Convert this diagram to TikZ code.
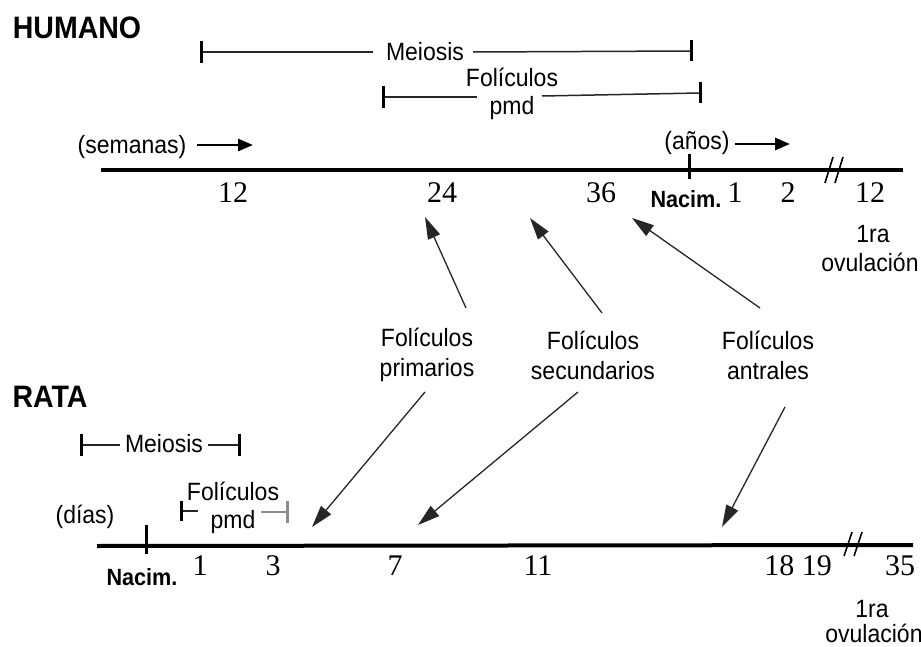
\documentclass[tikz,border=0pt]{standalone}
\usepackage{fontspec}
\setmainfont{Liberation Sans}[FakeStretch=0.92]
\newfontfamily\numfont{Liberation Serif}
\usetikzlibrary{arrows.meta}
\begin{document}
\begin{tikzpicture}[x=1pt,y=-1pt,
  txt/.style={inner sep=0pt, font=\fontsize{25}{28}\selectfont, align=center},
  lbl/.style={inner sep=0pt, font=\fontsize{25}{30}\selectfont, align=center},
  num/.style={inner sep=0pt, font=\numfont\fontsize{30}{32}\selectfont},
  boldlbl/.style={inner sep=0pt, font=\bfseries\fontsize{23.5}{26}\selectfont},
  title/.style={inner sep=0pt, font=\bfseries\fontsize{31}{34}\selectfont},
  axis/.style={line width=4pt},
  bar/.style={line width=1.5pt, black!85},
  greybar/.style={line width=1.5pt, black!45},
  tickmark/.style={line width=3pt},
  brk/.style={line width=1.6pt},
  pointer/.style={line width=1.3pt, black!85, -{Triangle[length=22pt,width=13pt]}},
  dirarrow/.style={line width=2.8pt, -{Triangle[length=15pt,width=12pt]}}
]
\useasboundingbox (0,0) rectangle (921,647);

% ================= HUMANO =================
\node[title] (hum) at (77,28) {HUMANO};

% Meiosis bar
\coordinate (hm1) at (201,52);
\coordinate (hm2) at (373,52);
\node[txt] (hmeio) at (425,52) {Meiosis};
\coordinate (hm3) at (473,52);
\coordinate (hm4) at (691,51);
\draw[bar] (hm1) -- (hm2);
\draw[bar] (hm3) -- (hm4);
\draw[tickmark] (hm1) ++(0,-11) -- ++(0,22);
\draw[tickmark] (hm4) ++(0,-11) -- ++(0,21);

% Foliculos pmd bar
\coordinate (hp1) at (383,97);
\coordinate (hp2) at (477,97);
\node[txt] (hpmd) at (512,94) {Folículos\\pmd};
\coordinate (hp3) at (542,96);
\coordinate (hp4) at (700,93);
\draw[bar] (hp1) -- (hp2);
\draw[bar] (hp3) -- (hp4);
\draw[tickmark] (hp1) ++(0,-11) -- ++(0,22);
\draw[tickmark] (hp4) ++(0,-11) -- ++(0,21);

% units
\node[txt] (hsem) at (132,147) {(semanas)};
\coordinate (hs1) at (197,145);
\coordinate (hs2) at (253,145);
\draw[dirarrow] (hs1) -- (hs2);
\node[txt] (hanos) at (697,143) {(años)};
\coordinate (ha1) at (735,144);
\coordinate (ha2) at (790,144);
\draw[dirarrow] (ha1) -- (ha2);

% axis
\coordinate (hx0) at (101,170);
\coordinate (hx1) at (903,170);
\draw[axis] (hx0) -- (hx1);
\coordinate (hbirth) at (689,166);
\draw[tickmark] (hbirth) ++(0,-12) -- ++(0,25);
\coordinate (hbrk) at (835,170);
\draw[brk] (hbrk) ++(-10,13) -- ++(8,-26);
\draw[brk] (hbrk) ++(0,13) -- ++(8,-26);

% numbers
\node[num] (h12) at (233,193) {12};
\node[num] (h24) at (442,193) {24};
\node[num] (h36) at (601,193) {36};
\node[boldlbl] (hnac) at (686,199) {Nacim.};
\node[num] (h1) at (735,193) {1};
\node[num] (h2) at (788,193) {2};
\node[num] (h12b) at (870,193) {12};
\node[txt] (hov1) at (873,234) {1ra};
\node[txt] (hov2) at (870,262) {ovulación};

% ================= labels =================
\node[lbl] (lprim) at (427,355) {Folículos\\primarios};
\node[lbl] (lsec) at (593,355) {Folículos\\secundarios};
\node[lbl] (lant) at (768,355) {Folículos\\antrales};

% arrows to human axis
\coordinate (hpt) at (466,308);
\coordinate (hptip) at (425,217);
\coordinate (hst) at (602,313);
\coordinate (hstip) at (530,218);
\coordinate (hat) at (760,308);
\coordinate (hatip) at (632,218);
\draw[pointer] (hpt) -- (hptip);
\draw[pointer] (hst) -- (hstip);
\draw[pointer] (hat) -- (hatip);

% arrows to rat axis
\coordinate (rpt) at (425,392);
\coordinate (rptip) at (312,527);
\coordinate (rst) at (578,392);
\coordinate (rstip) at (418,525);
\coordinate (rat) at (785,407);
\coordinate (ratip) at (722,527);
\draw[pointer] (rpt) -- (rptip);
\draw[pointer] (rst) -- (rstip);
\draw[pointer] (rat) -- (ratip);

% ================= RATA =================
\node[title] (rata) at (50,397) {RATA};

% Meiosis bar
\coordinate (rm1) at (81,445);
\coordinate (rm2) at (120,445);
\node[txt] (rmeio) at (164,444) {Meiosis};
\coordinate (rm3) at (208,445);
\coordinate (rm4) at (239,445);
\draw[bar] (rm1) -- (rm2);
\draw[bar] (rm3) -- (rm4);
\draw[tickmark] (rm1) ++(0,-11) -- ++(0,22);
\draw[tickmark] (rm4) ++(0,-11) -- ++(0,22);

% Foliculos pmd bar
\coordinate (rp1) at (181,511);
\coordinate (rp2) at (198,511);
\node[txt] (rpmd) at (233,508) {Folículos\\pmd};
\coordinate (rp3) at (261,512);
\coordinate (rp4) at (287,512);
\draw[bar] (rp1) -- (rp2);
\draw[greybar] (rp3) -- (rp4);
\draw[tickmark] (rp1) ++(0,-10) -- ++(0,20);
\draw[tickmark, black!45] (rp4) ++(0,-11) -- ++(0,22);

\node[txt] (rdias) at (85,517) {(días)};

% axis
\coordinate (rx0) at (97,546);
\coordinate (rx1) at (913,545);
\draw[axis] (rx0) -- (rx1);
\coordinate (rbirth) at (146,540);
\draw[tickmark] (rbirth) ++(0,-15) -- ++(0,29);
\coordinate (rbrk) at (854,544);
\draw[brk] (rbrk) ++(-10,12) -- ++(8,-24);
\draw[brk] (rbrk) ++(0,12) -- ++(8,-24);

% numbers
\node[boldlbl] (rnac) at (142,577) {Nacim.};
\node[num] (r1) at (200,566) {1};
\node[num] (r3) at (273,566) {3};
\node[num] (r7) at (395,566) {7};
\node[num] (r11) at (538,566) {11};
\node[num] (r1819) at (798,566) {18 19};
\node[num] (r35) at (900,566) {35};
\node[txt] (rov1) at (872,609) {1ra};
\node[txt] (rov2) at (874,633) {ovulación};
\end{tikzpicture}
\end{document}
